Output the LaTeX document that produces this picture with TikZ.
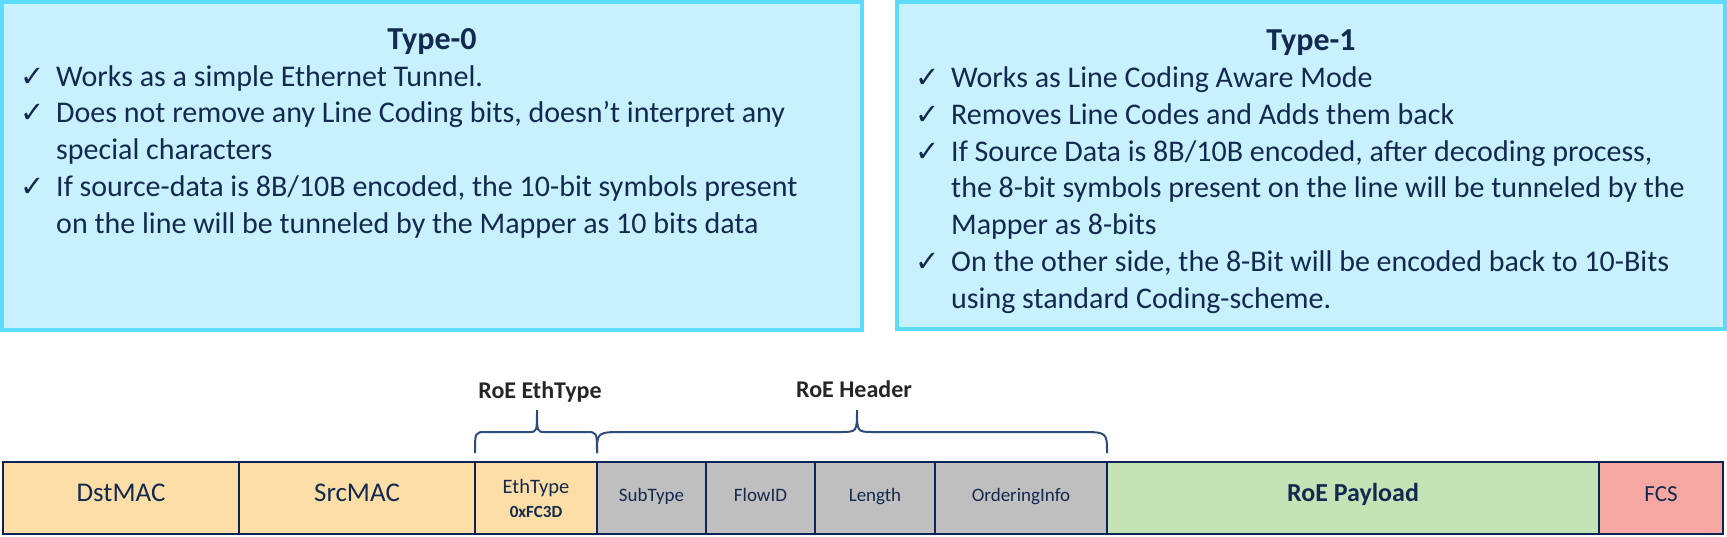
\documentclass[tikz,border=0pt]{standalone}
\usepackage{fontspec}
\setmainfont{Carlito}
\newfontfamily\symfont{DejaVu Sans}
\usetikzlibrary{positioning}

\definecolor{boxfill}{HTML}{C7F1FD}
\definecolor{boxline}{HTML}{5CDBFC}
\definecolor{navy}{HTML}{14294F}
\definecolor{frameline}{HTML}{0D2257}
\definecolor{macfill}{HTML}{FCDEA6}
\definecolor{hdrfill}{HTML}{BFBFBF}
\definecolor{payfill}{HTML}{C5E4B5}
\definecolor{fcsfill}{HTML}{F4A8A1}
\definecolor{bracecol}{HTML}{2E4C78}
\definecolor{labelgray}{HTML}{262626}

\newcommand{\chk}{\makebox[36pt][l]{\symfont\fontsize{29}{30}\selectfont ✓}}
\newcommand{\ind}{\hspace*{36pt}}

\tikzset{
  modebox/.style={draw=boxline, fill=boxfill, line width=4.5pt},
  modetitle/.style={anchor=base, text=navy, font=\fontsize{32}{38}\selectfont\bfseries},
  modetext/.style={anchor=base west, align=left, inner sep=0pt, text=navy,
    font=\fontsize{30}{36.7}\selectfont},
  cell/.style={draw=frameline, line width=2.5pt, minimum height=72pt, inner sep=0pt, text=navy},
  field/.style={cell, text height=.64em, text depth=0pt},
  brace/.style={draw=bracecol, line width=2pt},
  bracelabel/.style={anchor=base, text=labelgray, font=\fontsize{24}{28}\selectfont\bfseries}
}

\begin{document}
\begin{tikzpicture}[x=1pt, y=-1pt]
\useasboundingbox (0,0) rectangle (1727,536);

% Mode boxes
\draw[modebox] (2,2) rectangle (862,330);
\draw[modebox] (897,2) rectangle (1725,329);

% text nodes sit on the baseline of their last line
\node[modetitle] (t0title) at (432,49) {Type-0};
\node[modetext] (t0text) at (20,233) {\chk Works as a simple Ethernet Tunnel.\\
  \chk Does not remove any Line Coding bits, doesn’t interpret any\\
  \ind special characters\\
  \chk If source-data is 8B/10B encoded, the 10-bit symbols present\\
  \ind on the line will be tunneled by the Mapper as 10 bits data};

\node[modetitle] (t1title) at (1311,50) {Type-1};
\node[modetext] (t1text) at (915,308) {\chk Works as Line Coding Aware Mode\\
  \chk Removes Line Codes and Adds them back\\
  \chk If Source Data is 8B/10B encoded, after decoding process,\\
  \ind the 8-bit symbols present on the line will be tunneled by the\\
  \ind Mapper as 8-bits\\
  \chk On the other side, the 8-Bit will be encoded back to 10-Bits\\
  \ind using standard Coding-scheme.};

% Frame fields
\node[field, fill=macfill, minimum width=236pt, font=\fontsize{27}{32}\selectfont] (dst) at (121,498) {DstMAC};
\node[field, fill=macfill, minimum width=236pt, font=\fontsize{27}{32}\selectfont] (src) at (357,498) {SrcMAC};
\node[cell, fill=macfill, minimum width=122pt, align=center, font=\fontsize{20.5}{24}\selectfont] (eth) at (536,498)
  {EthType\\{\bfseries\fontsize{17}{24}\selectfont 0xFC3D}};
\node[field, fill=hdrfill, minimum width=109pt, font=\fontsize{19}{23}\selectfont] (sub) at (651.5,498) {SubType};
\node[field, fill=hdrfill, minimum width=109pt, font=\fontsize{19}{23}\selectfont] (flow) at (760.5,498) {FlowID};
\node[field, fill=hdrfill, minimum width=120pt, font=\fontsize{19}{23}\selectfont] (len) at (875,498) {Length};
\node[field, fill=hdrfill, minimum width=172pt, font=\fontsize{19}{23}\selectfont] (ord) at (1021,498) {OrderingInfo};
\node[field, fill=payfill, minimum width=492pt, font=\fontsize{26}{31}\selectfont\bfseries] (pay) at (1353,498) {RoE Payload};
\node[field, fill=fcsfill, minimum width=124pt, font=\fontsize{23}{28}\selectfont] (fcs) at (1661,498) {FCS};

% Braces
\draw[brace] (475,453) .. controls (475,432) .. (486,432) -- (529,432)
  .. controls (537,432) .. (537,410) .. controls (537,432) .. (545,432) -- (586,432)
  .. controls (597,432) .. (597,453);
\draw[brace] (597,453) .. controls (597,432) .. (625,432) -- (840,432)
  .. controls (857,432) .. (857,410) .. controls (857,432) .. (874,432) -- (1079,432)
  .. controls (1107,432) .. (1107,453);

\node[bracelabel] (ethlabel) at (540,398) {RoE EthType};
\node[bracelabel] (hdrlabel) at (854,397) {RoE Header};
\end{tikzpicture}
\end{document}
